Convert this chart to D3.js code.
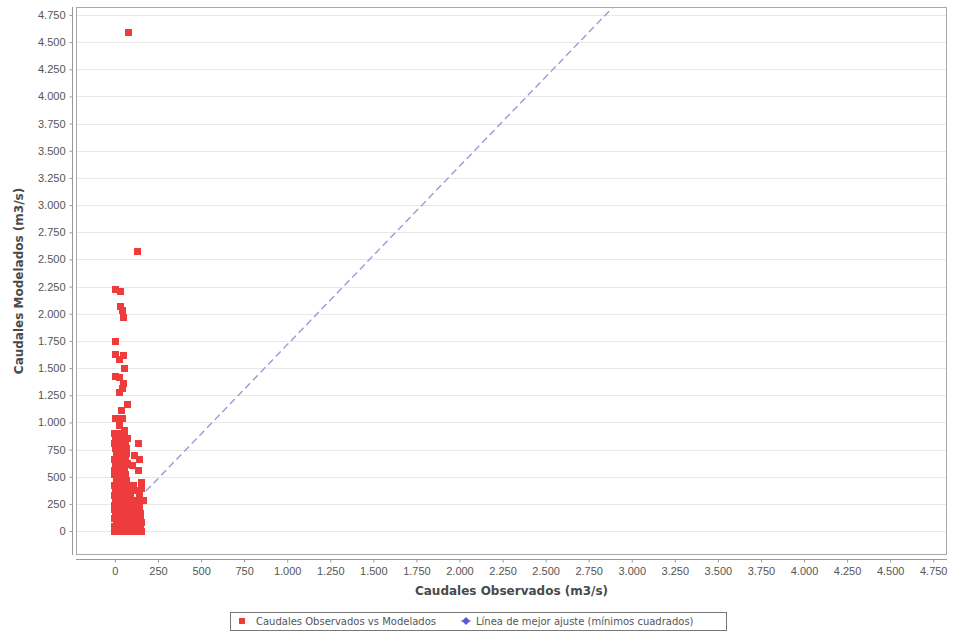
<!DOCTYPE html>
<html>
<head>
<meta charset="utf-8">
<script src="https://cdn.jsdelivr.net/npm/d3@7"></script>
<style>
  html, body { margin: 0; padding: 0; background: #fff; }
  svg { display: block; font-family: "DejaVu Sans", sans-serif; }
</style>
</head>
<body>
<svg id="chart" width="953" height="632"></svg>
<script>
// Observed vs modelled flows (m3/s)
const observed = [
  80, 130,
  6, 35, 35, 42, 52, 6, 6, 52, 29, 58, 6, 29, 52, 46, 29,
  75, 41, 6, 46, 29, 58, 134, 75, 116, 145, 75, 134, 157, 157, 163, 140,
  0, 30, 5, 35, 58,
  0, 30, 60, 5, 35, 65,
  10, 40, 70, 0, 30, 60,
  5, 35, 65, 0, 30, 55,
  0, 30, 60, 100, 10, 40, 70,
  0, 30, 60, 90, 5, 35, 65, 95,
  0, 30, 60, 90, 110, 5, 35, 65, 95, 115,
  0, 30, 60, 90, 120, 140, 10, 40, 70, 100, 130,
  0, 30, 60, 90, 120, 145, 5, 35, 65, 95, 125, 150,
  0, 30, 60, 90, 120, 150, 10, 40, 70, 100, 130, 155,
  0, 30, 60, 90, 120, 150, 5, 35, 65, 95, 125, 155,
  0, 25, 50, 75, 100, 125, 150
];
const modelled = [
  4590, 2575,
  2224, 2206, 2068, 2031, 1967, 1746, 1627, 1617, 1581, 1498, 1424, 1415, 1360, 1314, 1277,
  1167, 1112, 1038, 1038, 974, 928, 809, 855, 698, 662, 625, 560, 450, 395, 285, 330,
  900, 900, 855, 855, 880,
  810, 810, 810, 760, 760, 760,
  710, 710, 710, 660, 660, 660,
  610, 610, 610, 560, 560, 560,
  520, 520, 520, 600, 470, 470, 470,
  420, 420, 420, 420, 370, 370, 370, 370,
  330, 330, 330, 330, 420, 285, 285, 285, 285, 370,
  240, 240, 240, 240, 240, 240, 285, 285, 285, 285, 285,
  200, 200, 200, 200, 200, 200, 160, 160, 160, 160, 160, 160,
  120, 120, 120, 120, 120, 120, 80, 80, 80, 80, 80, 80,
  40, 40, 40, 40, 40, 40, 0, 0, 0, 0, 0, 0,
  0, 0, 0, 0, 0, 0, 0
];

// Least-squares fit line endpoints
const fitX = [180, 2950];
const fitY = [368, 4918];

const tickValues = [0, 250, 500, 750, 1000, 1250, 1500, 1750, 2000, 2250, 2500,
  2750, 3000, 3250, 3500, 3750, 4000, 4250, 4500, 4750];

const xTitle = "Caudales Observados (m3/s)";
const yTitle = "Caudales Modelados (m3/s)";
const legendLabels = ["Caudales Observados vs Modelados", "Línea de mejor ajuste (mínimos cuadrados)"];

const svg = d3.select("#chart");
const plot = { left: 76, top: 7, right: 947, bottom: 555 };

const x = d3.scaleLinear().domain([-226, 4830]).range([plot.left, plot.right]);
const y = d3.scaleLinear().domain([-220, 4823]).range([plot.bottom, plot.top]);

const es = d3.formatLocale({ decimal: ",", thousands: ".", grouping: [3], currency: ["", ""] });
const fmt = es.format(",d");

// Horizontal grid lines
svg.append("g")
  .selectAll("line")
  .data(tickValues)
  .join("line")
  .attr("x1", plot.left).attr("x2", plot.right)
  .attr("y1", d => Math.round(y(d)) + 0.5).attr("y2", d => Math.round(y(d)) + 0.5)
  .attr("stroke", "#e8e8e8").attr("stroke-width", 1);

// Plot frame
svg.append("rect")
  .attr("x", plot.left + 0.5).attr("y", plot.top + 0.5)
  .attr("width", plot.right - plot.left - 1).attr("height", plot.bottom - plot.top - 1)
  .attr("fill", "none").attr("stroke", "#a8a8a8");

// Clip region for marks
svg.append("clipPath").attr("id", "clip")
  .append("rect")
  .attr("x", plot.left + 1).attr("y", plot.top + 1)
  .attr("width", plot.right - plot.left - 2).attr("height", plot.bottom - plot.top - 2);

const marks = svg.append("g").attr("clip-path", "url(#clip)");

// Fit line
marks.append("line")
  .attr("x1", x(fitX[0])).attr("y1", y(fitY[0]))
  .attr("x2", x(fitX[1])).attr("y2", y(fitY[1]))
  .attr("stroke", "#9a9ad8").attr("stroke-width", 1.4)
  .attr("stroke-dasharray", "7,4");

// Scatter squares
const sz = 7;
marks.append("g")
  .selectAll("rect")
  .data(observed.map((v, i) => [v, modelled[i]]))
  .join("rect")
  .attr("x", d => Math.round(x(d[0]) - sz / 2))
  .attr("y", d => Math.round(y(d[1]) - sz / 2))
  .attr("width", sz).attr("height", sz)
  .attr("fill", "#ee3b3b");

// Y axis
const yAxis = svg.append("g")
  .attr("transform", "translate(72.5,0)")
  .call(d3.axisLeft(y).tickValues(tickValues).tickFormat(fmt).tickSizeInner(3).tickSizeOuter(0).tickPadding(4));
yAxis.select(".domain").attr("stroke", "#9a9a9a").attr("d", `M0,${plot.top}V${plot.bottom}`);
yAxis.selectAll(".tick line").attr("stroke", "#9a9a9a");
yAxis.selectAll("text").attr("fill", "#555").style("font-size", "11px");

// X axis
const xAxis = svg.append("g")
  .attr("transform", "translate(0,559.5)")
  .call(d3.axisBottom(x).tickValues(tickValues).tickFormat(fmt).tickSizeInner(3).tickSizeOuter(0).tickPadding(5));
xAxis.select(".domain").attr("stroke", "#9a9a9a").attr("d", `M${plot.left},0H${plot.right}`);
xAxis.selectAll(".tick line").attr("stroke", "#9a9a9a");
xAxis.selectAll("text").attr("fill", "#555").style("font-size", "11px");

// Axis titles
svg.append("text")
  .attr("x", (plot.left + plot.right) / 2).attr("y", 595)
  .attr("text-anchor", "middle")
  .style("font-size", "12px").style("font-weight", "bold").attr("fill", "#4a4a4a")
  .text(xTitle);

svg.append("text")
  .attr("transform", `translate(23,${(plot.top + plot.bottom) / 2}) rotate(-90)`)
  .attr("text-anchor", "middle")
  .style("font-size", "12px").style("font-weight", "bold").attr("fill", "#4a4a4a")
  .text(yTitle);

// Legend
const legend = svg.append("g");
legend.append("rect")
  .attr("x", 230.5).attr("y", 612.5).attr("width", 496).attr("height", 18)
  .attr("fill", "#fff").attr("stroke", "#777");
legend.append("rect")
  .attr("x", 239).attr("y", 618).attr("width", 6).attr("height", 6)
  .attr("fill", "#ee3b3b");
legend.append("text")
  .attr("x", 256).attr("y", 625)
  .style("font-size", "10px").attr("fill", "#555")
  .text(legendLabels[0]);
const lx = 466, ly = 621;
legend.append("line")
  .attr("x1", lx - 5).attr("x2", lx + 5).attr("y1", ly).attr("y2", ly)
  .attr("stroke", "#6f6fd0").attr("stroke-width", 1);
legend.append("path")
  .attr("d", `M${lx},${ly - 4}L${lx + 4},${ly}L${lx},${ly + 4}L${lx - 4},${ly}Z`)
  .attr("fill", "#5a5ad0");
legend.append("text")
  .attr("x", 476).attr("y", 625)
  .style("font-size", "10px").attr("fill", "#555")
  .text(legendLabels[1]);
</script>
</body>
</html>
